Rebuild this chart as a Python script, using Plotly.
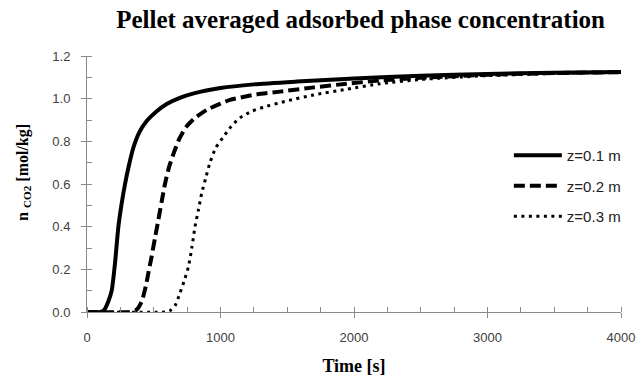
import plotly.graph_objects as go

# Data
t1 = [0, 100, 130, 160, 185, 210, 235, 260, 285, 315, 347, 390, 447, 520, 597, 700, 800, 1000, 1250, 1571, 2000, 2500, 3000, 3500, 4000]
n1 = [0, 0, 0.01, 0.05, 0.10, 0.23, 0.40, 0.51, 0.60, 0.69, 0.77, 0.84, 0.895, 0.94, 0.975, 1.005, 1.025, 1.05, 1.067, 1.08, 1.095, 1.108, 1.116, 1.121, 1.125]

t2 = [0, 320, 370, 410, 440, 462, 484, 510, 534, 560, 584, 615, 647, 690, 746, 810, 896, 1000, 1071, 1250, 1446, 1700, 1945, 2195, 2500, 3000, 3500, 4000]
n2 = [0, 0, 0.01, 0.05, 0.12, 0.19, 0.26, 0.35, 0.43, 0.52, 0.60, 0.68, 0.74, 0.81, 0.87, 0.91, 0.947, 0.977, 0.994, 1.018, 1.033, 1.053, 1.07, 1.085, 1.098, 1.112, 1.12, 1.124]

t3 = [0, 580, 620, 660, 697, 730, 759, 785, 809, 835, 859, 890, 921, 965, 1021, 1080, 1146, 1230, 1321, 1500, 1695, 1950, 2195, 2500, 3000, 3500, 4000]
n3 = [0, 0, 0.005, 0.03, 0.09, 0.15, 0.21, 0.30, 0.40, 0.48, 0.556, 0.63, 0.70, 0.77, 0.82, 0.87, 0.91, 0.94, 0.96, 0.99, 1.017, 1.045, 1.07, 1.09, 1.108, 1.118, 1.123]

names = ["z=0.1 m", "z=0.2 m", "z=0.3 m"]

fig = go.Figure()
fig.add_trace(go.Scatter(x=t1, y=n1, name=names[0], mode="lines", legendgroup="a",
                         line=dict(color="black", width=4, shape="spline", smoothing=0.6)))
fig.add_trace(go.Scatter(x=t2, y=n2, name=names[1], mode="lines", legendgroup="b",
                         line=dict(color="black", width=4, dash="11px,5px", shape="spline", smoothing=0.6)))
fig.add_trace(go.Scatter(x=t3, y=n3, name=names[2], mode="lines", legendgroup="c",
                         line=dict(color="black", width=3, dash="3px,4.5px", shape="spline", smoothing=0.6)))

axis_col = "#8a8a8a"
tick_font = dict(family="Liberation Sans", size=13, color="#404040")

fig.update_layout(
    width=636, height=376,
    margin=dict(l=87, r=15, t=56, b=64, autoexpand=False),
    paper_bgcolor="white", plot_bgcolor="white",
    title=dict(text="<b>Pellet averaged adsorbed phase concentration</b>",
               font=dict(family="Liberation Serif", size=25, color="black"),
               x=0.567, xanchor="center", y=0.948, yanchor="middle"),
    showlegend=True,
    legend=dict(x=0.79, y=0.676, xanchor="left", yanchor="top",
                font=dict(family="Liberation Sans", size=15, color="#202020"),
                traceorder="grouped", tracegroupgap=8, itemwidth=48,
                bgcolor="rgba(0,0,0,0)"),
    annotations=[dict(text="<b>n <sub>CO2</sub> [mol/kg]</b>", textangle=-90,
                      xref="paper", yref="paper", x=-0.118, y=0.547,
                      xanchor="center", yanchor="middle", showarrow=False,
                      font=dict(family="Liberation Serif", size=16, color="black"))],
)
fig.update_xaxes(range=[0, 4000], dtick=1000, tick0=0,
                 showgrid=False, zeroline=False, showline=True, linecolor=axis_col, linewidth=1,
                 ticks="outside", ticklen=5, tickcolor=axis_col, tickfont=tick_font,
                 ticklabelstandoff=8,
                 minor=dict(dtick=250, ticks="inside", ticklen=5, tickcolor=axis_col),
                 title=dict(text="<b>Time [s]</b>", font=dict(family="Liberation Serif", size=18, color="black"),
                            standoff=15))
fig.update_yaxes(range=[0, 1.2], dtick=0.2, tick0=0, tickformat=".1f",
                 showgrid=False, zeroline=False, showline=True, linecolor=axis_col, linewidth=1,
                 ticks="outside", ticklen=5, tickcolor=axis_col, tickfont=tick_font,
                 ticklabelstandoff=8,
                 minor=dict(dtick=0.1, ticks="inside", ticklen=5, tickcolor=axis_col))

fig.write_html("out.html")
